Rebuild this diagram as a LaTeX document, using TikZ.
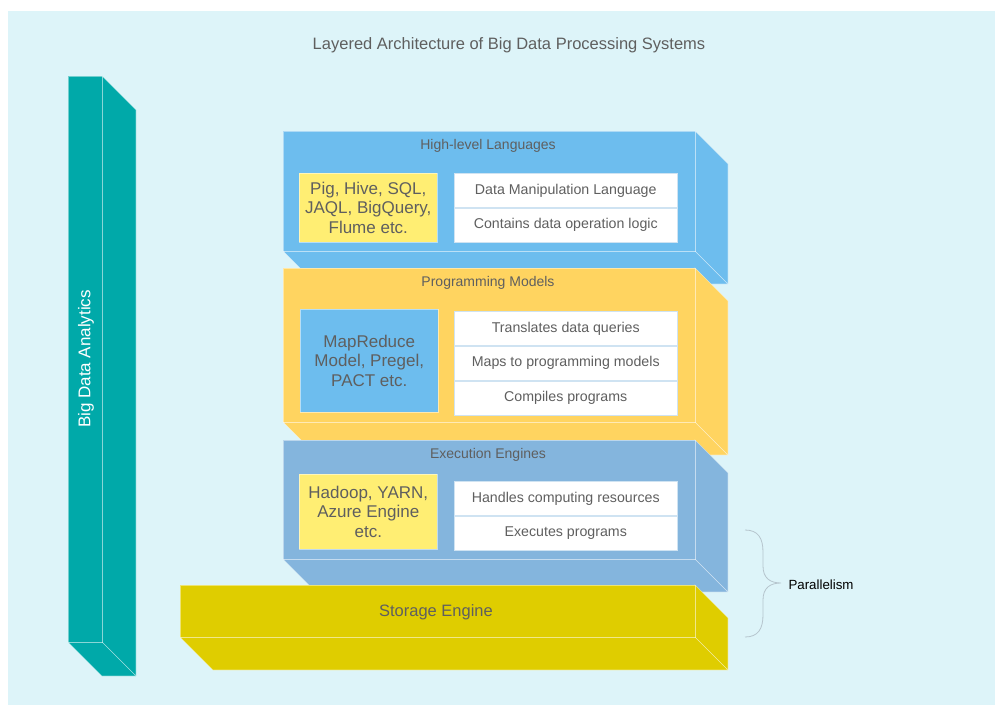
\documentclass[tikz,border=0pt]{standalone}
\usepackage{fontspec}
\setmainfont{Liberation Sans}
\usetikzlibrary{positioning}

\definecolor{bgcyan}{HTML}{DDF4F9}
\definecolor{hlblue}{HTML}{6DBDEE}
\definecolor{pmyellow}{HTML}{FFD460}
\definecolor{eeblue}{HTML}{84B5DD}
\definecolor{seolive}{HTML}{DFCD00}
\definecolor{colteal}{HTML}{00A9A9}
\definecolor{tagyellow}{HTML}{FFEE73}
\definecolor{txtgray}{HTML}{5F5F5F}
\definecolor{rolebd}{HTML}{CFE3F2}
\definecolor{bracegray}{HTML}{B5C4CC}

\tikzset{
  face/.style={draw=white, draw opacity=0.45, line width=0.6pt},
  layertitle/.style={text=txtgray, font=\fontsize{14}{16}\selectfont},
  tagbox/.style={anchor=north west, inner sep=0pt, align=center, text=txtgray,
    draw=white, draw opacity=0.5, line width=0.6pt, minimum width=138pt,
    font=\fontsize{17}{19.5}\selectfont},
  rolebox/.style={anchor=north west, inner sep=0pt, fill=white, draw=rolebd,
    line width=0.5pt, minimum width=223pt, minimum height=34.3pt, text=txtgray,
    font=\fontsize{14.2}{16}\selectfont}
}

\begin{document}
\begin{tikzpicture}[x=1pt,y=-1pt]
\useasboundingbox (0,0) rectangle (996,706);
\fill[bgcyan] (8,11) rectangle (995,705);

\node[text=txtgray, font=\fontsize{16.5}{19}\selectfont] (title) at (509,45.5)
  {Layered Architecture of Big Data Processing Systems};

% analytics column
\draw[face, fill=colteal] (102,76) -- (136,110) -- (136,676) -- (102,642) -- cycle;
\draw[face, fill=colteal] (68,642) -- (102,642) -- (136,676) -- (102,676) -- cycle;
\draw[face, fill=colteal] (68,76) rectangle (102,642);
\node[rotate=90, text=white, font=\fontsize{17}{19}\selectfont] (analytics) at (86,359)
  {Big Data Analytics};

% layers, top to bottom
\foreach \yt/\yb/\xl/\col in {131/251/283/hlblue, 268/422/283/pmyellow,
    440/559/283/eeblue, 585/637/180/seolive}{
  \draw[face, fill=\col] (\xl,\yb) -- (695,\yb) -- (728,\yb+33) -- (\xl+33,\yb+33) -- cycle;
  \draw[face, fill=\col] (695,\yt) -- (728,\yt+33) -- (728,\yb+33) -- (695,\yb) -- cycle;
  \draw[face, fill=\col] (\xl,\yt) rectangle (695,\yb);
}

\node[layertitle] (hlTitle) at (488,145.5) {High-level Languages};
\node[layertitle] (pmTitle) at (488,282.5) {Programming Models};
\node[layertitle] (eeTitle) at (488,454.5) {Execution Engines};
\node[text=txtgray, font=\fontsize{16.5}{19}\selectfont] (seTitle) at (436,612.5) {Storage Engine};

\node[tagbox, fill=tagyellow, minimum height=69pt] (hlTag) at (299,173)
  {Pig, Hive, SQL,\\JAQL, BigQuery,\\Flume etc.};
\node[rolebox] (hlRoleA) at (454,173) {Data Manipulation Language};
\node[rolebox] (hlRoleB) at (hlRoleA.south west) {Contains data operation logic};

\node[tagbox, fill=hlblue, minimum height=103pt] (pmTag) at (300,309)
  {MapReduce\\Model, Pregel,\\PACT etc.};
\node[rolebox] (pmRoleA) at (454,311) {Translates data queries};
\node[rolebox] (pmRoleB) at (pmRoleA.south west) {Maps to programming models};
\node[rolebox] (pmRoleC) at (pmRoleB.south west) {Compiles programs};

\node[tagbox, fill=tagyellow, minimum height=75pt] (eeTag) at (299,474)
  {Hadoop, YARN,\\Azure Engine\\etc.};
\node[rolebox] (eeRoleA) at (454,481) {Handles computing resources};
\node[rolebox] (eeRoleB) at (eeRoleA.south west) {Executes programs};

% brace
\coordinate (braceTop) at (745,530);
\coordinate (braceTip) at (781,583);
\coordinate (braceBot) at (745,637);
\draw[bracegray, line width=0.8pt] (braceTop) .. controls (758,530) and (763,538) .. (763,552)
  -- (763,566) .. controls (763,578) and (770,583) .. (braceTip)
  .. controls (770,583) and (763,588) .. (763,600) -- (763,615)
  .. controls (763,629) and (758,637) .. (braceBot);
\node[anchor=west, font=\fontsize{13.3}{15}\selectfont] (parallel) at (785,585) {Parallelism};
\end{tikzpicture}
\end{document}
